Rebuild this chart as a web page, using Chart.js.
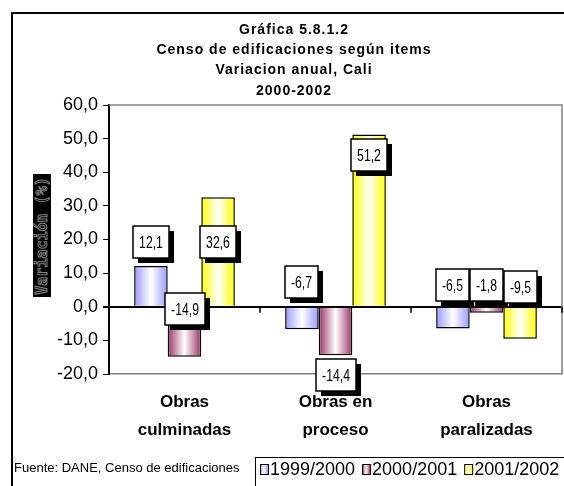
<!DOCTYPE html>
<html>
<head>
<meta charset="utf-8">
<script src="https://cdn.jsdelivr.net/npm/chart.js@4"></script>
<style>html,body{margin:0;padding:0;background:#fff}</style>
</head>
<body>
<canvas id="grafica" width="564" height="486"></canvas>
<script>
// Gráfica 5.8.1.2 - Censo de edificaciones, variación anual Cali
const categorias = [["Obras", "culminadas"], ["Obras en", "proceso"], ["Obras", "paralizadas"]];
const periodos = ["1999/2000", "2000/2001", "2001/2002"];
const var1999 = [12.1, -6.7, -6.5];
const var2000 = [-14.9, -14.4, -1.8];
const var2001 = [32.6, 51.2, -9.5];
// nivel (en %) donde quedaron las etiquetas en el original
const etiq1999 = [19.4, 7.5, 6.4];
const etiq2000 = [-0.6, -20.3, 6.4];
const etiq2001 = [19.4, 45.1, 5.8];
const titulo = ["Gráfica 5.8.1.2", "Censo de edificaciones según items", "Variacion anual, Cali", "2000-2002"];
const fuente = "Fuente: DANE, Censo de edificaciones";
const colores = ["#9999ff", "#993366", "#ffff00"];

const series = [var1999, var2000, var2001];
const etiquetas = [etiq1999, etiq2000, etiq2001];
const fmt = v => v.toFixed(1).replace(".", ",");

function degradado(ctx, x0, x1, color) {
  const g = ctx.createLinearGradient(x0, 0, x1, 0);
  g.addColorStop(0, color);
  g.addColorStop(0.5, "#ffffff");
  g.addColorStop(1, color);
  return g;
}

const decorado = {
  id: "decorado",
  afterUpdate(chart) {
    // relleno degradado por barra
    chart.data.datasets.forEach((ds, d) => {
      chart.getDatasetMeta(d).data.forEach(el => {
        const g = degradado(chart.ctx, el.x - el.width / 2, el.x + el.width / 2, colores[d]);
        el.options = Object.assign({}, el.options, { backgroundColor: g });
      });
    });
  },
  beforeDraw(chart) {
    const c = chart.ctx;
    c.save();
    c.strokeStyle = "#000";
    c.lineWidth = 2;
    c.strokeRect(12, 13, 700, 700);

    // titulo
    c.fillStyle = "#000";
    c.font = "bold 14px Arial";
    c.textAlign = "center";
    c.textBaseline = "middle";
    c.letterSpacing = "1px";
    titulo.forEach((t, i) => c.fillText(t, 294, 30 + i * 20.3));
    c.letterSpacing = "0px";

    // titulo eje y
    c.fillRect(33, 174, 18, 123);
    c.translate(42, 236);
    c.rotate(-Math.PI / 2);
    c.font = 'bold 15px "DejaVu Sans Mono"';
    c.strokeStyle = "#808080";
    c.lineWidth = 1;
    c.strokeText("Variación (%)", 0, 1);
    c.restore();

    c.save();
    c.fillStyle = "#000";
    c.font = "13px Arial";
    c.textBaseline = "middle";
    c.fillText(fuente, 14, 468);
    c.restore();
  },
  beforeDatasetsDraw(chart) {
    const c = chart.ctx, a = chart.chartArea;
    c.save();
    c.strokeStyle = "#808080";
    c.lineWidth = 1.5;
    c.beginPath();
    c.moveTo(a.left, a.top);
    c.lineTo(a.right, a.top);
    c.lineTo(a.right, a.bottom);
    c.stroke();
    c.restore();
  },
  afterDatasetsDraw(chart) {
    const c = chart.ctx, x = chart.scales.x, y = chart.scales.y;
    const y0 = y.getPixelForValue(0);
    const ancho = x.width / categorias.length;
    c.save();
    c.strokeStyle = "#000";
    c.lineWidth = 1.5;
    categorias.forEach((k, i) => {
      const px = Math.round(x.getPixelForValue(i) + ancho / 2);
      c.beginPath();
      c.moveTo(px, y0);
      c.lineTo(px, y0 + 6);
      c.stroke();
    });

    // etiquetas de datos
    chart.data.datasets.forEach((ds, d) => {
      chart.getDatasetMeta(d).data.forEach((el, i) => {
        const txt = fmt(ds.data[i]);
        const cy = y.getPixelForValue(etiquetas[d][i]);
        c.font = "17px Arial";
        const tw = c.measureText(txt).width * 0.72;
        const w = Math.round(tw + 12), h = 32;
        const bx = Math.round(el.x - w / 2), by = Math.round(cy - h / 2);
        c.fillStyle = "#000";
        c.fillRect(bx + 5, by + 5, w, h);
        c.fillStyle = "#fff";
        c.fillRect(bx, by, w, h);
        c.strokeStyle = "#000";
        c.lineWidth = 1.5;
        c.strokeRect(bx, by, w, h);
        c.save();
        c.translate(bx + w / 2, by + h / 2);
        c.scale(0.72, 1);
        c.fillStyle = "#000";
        c.textAlign = "center";
        c.textBaseline = "middle";
        c.fillText(txt, 0, 1);
        c.restore();
      });
    });

    // leyenda
    c.strokeStyle = "#000";
    c.lineWidth = 1;
    c.fillStyle = "#fff";
    c.fillRect(255.5, 457.5, 400, 100);
    c.strokeRect(255.5, 457.5, 400, 100);
    c.font = "18px Arial";
    c.textBaseline = "middle";
    let lx = 260;
    const ly = 470;
    periodos.forEach((p, d) => {
      c.fillStyle = degradado(c, lx, lx + 8, colores[d]);
      c.fillRect(lx, ly - 5, 8, 10);
      c.strokeRect(lx + 0.5, ly - 5.5, 8, 10);
      c.fillStyle = "#000";
      c.fillText(p, lx + 10, ly);
      lx += 10 + c.measureText(p).width + 7;
    });
    c.restore();
  }
};

new Chart(document.getElementById("grafica"), {
  type: "bar",
  data: {
    labels: categorias,
    datasets: periodos.map((p, d) => ({
      label: p,
      data: series[d],
      backgroundColor: colores[d],
      borderColor: "#000",
      borderWidth: 1.5,
      categoryPercentage: 0.667,
      barPercentage: 1
    }))
  },
  options: {
    responsive: false,
    animation: false,
    layout: { padding: { top: 105, right: 2, left: 0, bottom: 0 } },
    plugins: {
      legend: { display: false },
      tooltip: { enabled: false }
    },
    scales: {
      x: {
        grid: { color: "rgba(0,0,0,0)", drawTicks: false },
        border: { color: "#808080", width: 1.5 },
        ticks: {
          color: "#000",
          font: { family: "Arial", size: 17, weight: "bold", lineHeight: 1.65 },
          padding: 14,
          maxRotation: 0,
          autoSkip: false
        },
        afterFit: s => { s.height = 112; }
      },
      y: {
        min: -20,
        max: 60,
        ticks: {
          stepSize: 10,
          callback: v => fmt(v),
          color: "#000",
          font: { family: "Arial", size: 18 },
          padding: 5
        },
        grid: {
          color: c => c.tick.value === 0 ? "#000" : "rgba(0,0,0,0)",
          lineWidth: c => c.tick.value === 0 ? 2 : 1,
          tickColor: "#000",
          tickLength: 6
        },
        border: { color: "#000", width: 2 },
        afterFit: s => { s.width = 109; }
      }
    }
  },
  plugins: [decorado]
});
</script>
</body>
</html>
